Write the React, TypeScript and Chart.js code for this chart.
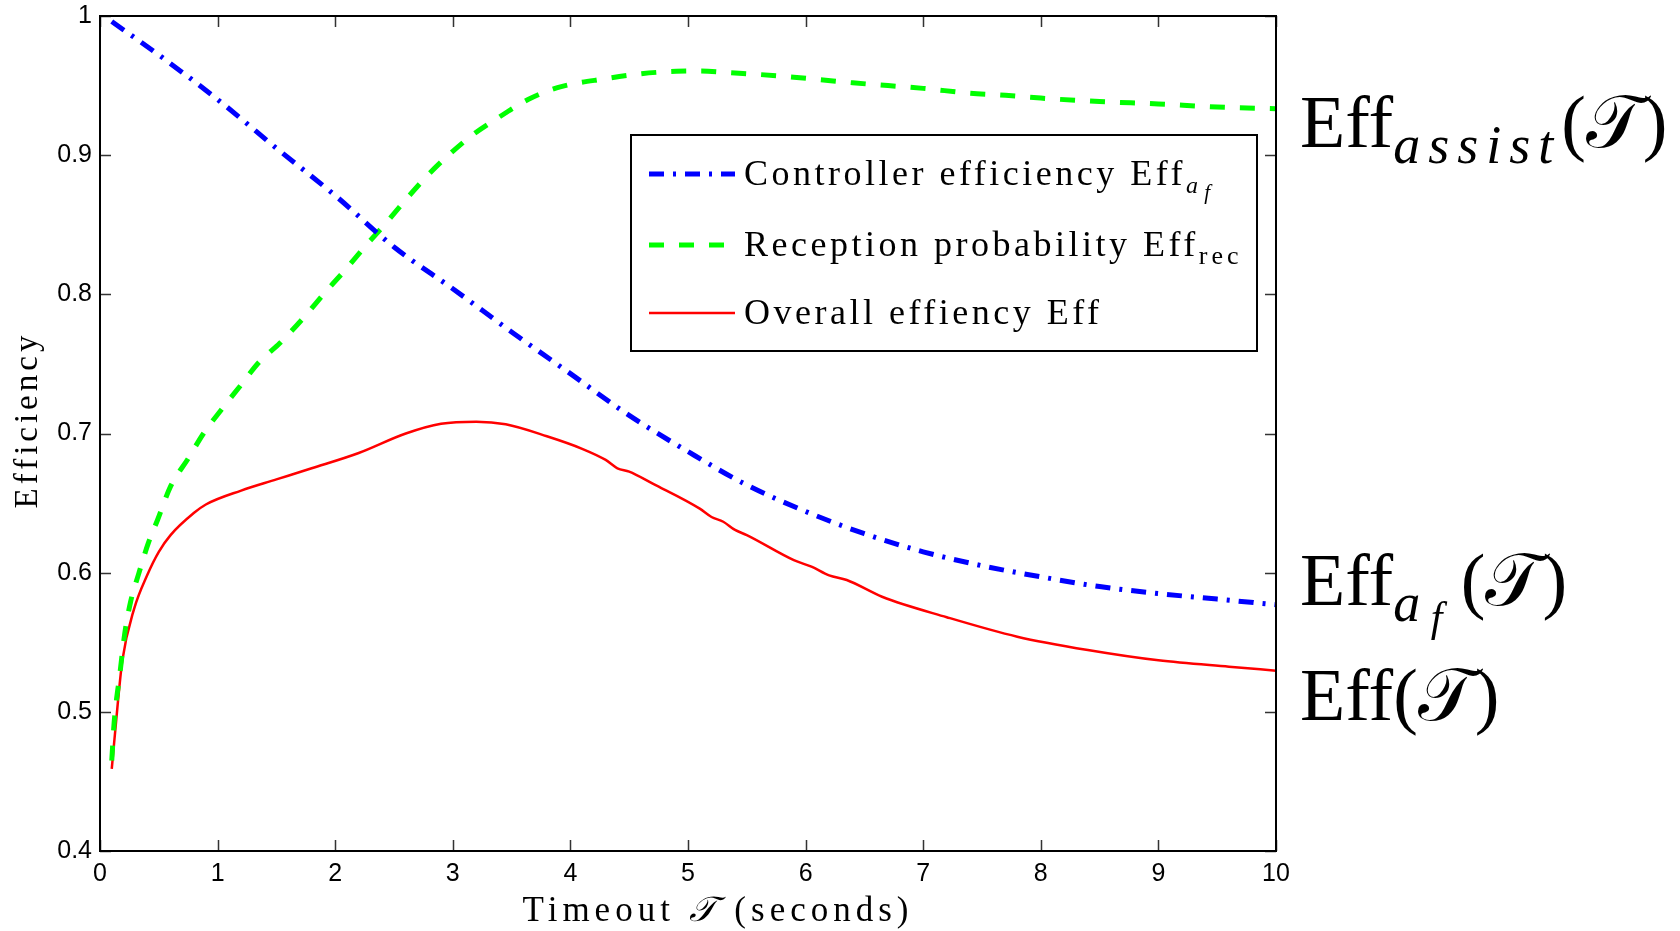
import React, { useEffect, useRef } from 'react';
import { Chart, registerables } from 'chart.js';

Chart.register(...registerables);

// ---- data ----
const ctrlT = [0.1, 0.5, 1.0, 1.5, 2.0, 2.5, 3.0, 3.5, 4.0, 4.5, 5.0, 5.5, 6.0, 6.5, 7.0, 7.5, 8.0, 8.5, 9.0, 9.5, 10];
const ctrlEff = [0.996, 0.972, 0.940, 0.905, 0.871, 0.834, 0.804, 0.773, 0.743, 0.713, 0.687, 0.663, 0.644, 0.628, 0.615, 0.605, 0.597, 0.590, 0.585, 0.581, 0.577];

const recT = [0.1, 0.12, 0.17, 0.21, 0.26, 0.33, 0.41, 0.49, 0.6, 0.75, 0.88, 1.04, 1.2, 1.35, 1.53, 1.74, 1.91, 2.08, 2.26, 2.43, 2.6, 2.78, 2.95, 3.16, 3.37, 3.64, 3.89, 4.3, 4.6, 4.9, 5.1, 5.4, 5.6, 5.9, 6.15, 6.4, 6.7, 7.0, 7.4, 7.7, 8.0, 8.5, 9.0, 9.5, 10];
const recEff = [0.465, 0.492, 0.528, 0.556, 0.579, 0.5995, 0.621, 0.638, 0.662, 0.682, 0.700, 0.718, 0.735, 0.751, 0.765, 0.784, 0.801, 0.817, 0.835, 0.851, 0.868, 0.885, 0.899, 0.914, 0.926, 0.940, 0.9485, 0.955, 0.9585, 0.9603, 0.9605, 0.959, 0.958, 0.956, 0.954, 0.952, 0.950, 0.948, 0.9445, 0.943, 0.941, 0.9385, 0.9368, 0.9346, 0.9334];

const overallT = [0.1, 0.15, 0.19, 0.29, 0.4, 0.5, 0.6, 0.8, 0.9, 1.2, 1.5, 1.8, 2.2, 2.6, 2.9, 3.2, 3.45, 3.8, 4.1, 4.3, 4.4, 4.5, 4.7, 5.1, 5.2, 5.3, 5.4, 5.5, 5.9, 6.05, 6.2, 6.35, 6.65, 7.2, 7.8, 8.4, 9.0, 9.6, 10];
const overallEff = [0.459, 0.505, 0.537, 0.574, 0.598, 0.615, 0.627, 0.643, 0.649, 0.659, 0.667, 0.675, 0.686, 0.700, 0.707, 0.7085, 0.7066, 0.698, 0.689, 0.681, 0.675, 0.6726, 0.664, 0.646, 0.640, 0.6366, 0.6307, 0.627, 0.609, 0.6043, 0.598, 0.5947, 0.5827, 0.568, 0.554, 0.5444, 0.537, 0.5324, 0.5296];

const xTickValues = [0, 1, 2, 3, 4, 5, 6, 7, 8, 9, 10];
const xTickLabels = ['0', '1', '2', '3', '4', '5', '6', '7', '8', '9', '10'];
const yTickValues = [0.4, 0.5, 0.6, 0.7, 0.8, 0.9, 1.0];
const yTickLabels = ['0.4', '0.5', '0.6', '0.7', '0.8', '0.9', '1'];

const yTitle = 'Efficiency';

const BLUE = '#0000ff';
const GREEN = '#00ff00';
const RED = '#ff0000';
const BLUE_DASH = [15, 9, 3, 9];
const GREEN_DASH = [15, 15];

const SERIF = '"Liberation Serif", "DejaVu Serif", serif';
const SANS = '"Liberation Sans", Arial, sans-serif';

type Run = { t: string; f: string; dy?: number; ls?: number };

function drawRuns(ctx: CanvasRenderingContext2D, runs: Run[], x: number, y: number) {
  let cx = x;
  for (const r of runs) {
    ctx.font = r.f;
    (ctx as any).letterSpacing = (r.ls ?? 0) + 'px';
    ctx.fillText(r.t, cx, y + (r.dy ?? 0));
    cx += ctx.measureText(r.t).width;
  }
  (ctx as any).letterSpacing = '0px';
  return cx;
}

function runsWidth(ctx: CanvasRenderingContext2D, runs: Run[]) {
  let w = 0;
  for (const r of runs) {
    ctx.font = r.f;
    (ctx as any).letterSpacing = (r.ls ?? 0) + 'px';
    w += ctx.measureText(r.t).width;
  }
  (ctx as any).letterSpacing = '0px';
  return w;
}

const decorPlugin = {
  id: 'decor',
  afterDraw(chart: any) {
    const ctx: CanvasRenderingContext2D = chart.ctx;
    const { left, right, top, bottom } = chart.chartArea;
    const xs = chart.scales.x;
    const ys = chart.scales.y;
    ctx.save();

    // inward ticks on all four sides
    ctx.strokeStyle = '#333';
    ctx.lineWidth = 1.5;
    const TL = 11;
    ctx.beginPath();
    for (const v of xTickValues) {
      const px = Math.round(xs.getPixelForValue(v)) + 0.5;
      ctx.moveTo(px, bottom); ctx.lineTo(px, bottom - TL);
      ctx.moveTo(px, top); ctx.lineTo(px, top + TL);
    }
    for (const v of yTickValues) {
      const py = Math.round(ys.getPixelForValue(v)) + 0.5;
      ctx.moveTo(left, py); ctx.lineTo(left + TL, py);
      ctx.moveTo(right, py); ctx.lineTo(right - TL, py);
    }
    ctx.stroke();

    // frame
    ctx.strokeStyle = '#000';
    ctx.lineWidth = 2;
    ctx.strokeRect(left, top, right - left, bottom - top);

    // legend box
    const bx = 631, by = 135, bw = 626, bh = 216;
    ctx.fillStyle = '#fff';
    ctx.fillRect(bx, by, bw, bh);
    ctx.strokeStyle = '#000';
    ctx.lineWidth = 2;
    ctx.strokeRect(bx, by, bw, bh);

    const items = [
      { y: 174, color: BLUE, width: 5, dash: BLUE_DASH,
        runs: [
          { t: 'Controller efficiency Eff', f: `36px ${SERIF}`, ls: 3.5 },
          { t: 'a', f: `italic 24px ${SERIF}`, dy: 8, ls: 1 },
          { t: ' f', f: `italic 21px ${SERIF}`, dy: 14 },
        ] as Run[] },
      { y: 245, color: GREEN, width: 5, dash: GREEN_DASH,
        runs: [
          { t: 'Reception probability Eff', f: `36px ${SERIF}`, ls: 3.5 },
          { t: 'rec', f: `26px ${SERIF}`, dy: 8, ls: 4 },
        ] as Run[] },
      { y: 313, color: RED, width: 2.5, dash: [] as number[],
        runs: [
          { t: 'Overall effiency Eff', f: `36px ${SERIF}`, ls: 3.5 },
        ] as Run[] },
    ];
    for (const it of items) {
      ctx.strokeStyle = it.color;
      ctx.lineWidth = it.width;
      ctx.setLineDash(it.dash);
      ctx.beginPath();
      ctx.moveTo(649, it.y);
      ctx.lineTo(735, it.y);
      ctx.stroke();
      ctx.setLineDash([]);
      ctx.fillStyle = '#000';
      ctx.textBaseline = 'alphabetic';
      ctx.textAlign = 'left';
      drawRuns(ctx, it.runs, 744, it.y + 11);
    }

    // axis titles
    ctx.fillStyle = '#000';
    ctx.textBaseline = 'alphabetic';
    ctx.textAlign = 'left';
    const xtRuns: Run[] = [
      { t: 'Timeout ', f: `35px ${SERIF}`, ls: 5 },
      { t: '\u{1D4AF}', f: `italic 35px ${SERIF}`, ls: 5 },
      { t: ' (seconds)', f: `35px ${SERIF}`, ls: 5 },
    ];
    const xtw = runsWidth(ctx, xtRuns);
    drawRuns(ctx, xtRuns, 718 - xtw / 2, 921);

    ctx.save();
    ctx.translate(37, 420);
    ctx.rotate(-Math.PI / 2);
    const ytRuns: Run[] = [{ t: yTitle, f: `33px ${SERIF}`, ls: 4 }];
    const ytw = runsWidth(ctx, ytRuns);
    drawRuns(ctx, ytRuns, -ytw / 2, 0);
    ctx.restore();

    // right-hand curve annotations
    const big = `74px ${SERIF}`;
    const subI = `italic 54px ${SERIF}`;
    drawRuns(ctx, [
      { t: 'Eff', f: big },
      { t: 'assist', f: subI, dy: 16, ls: 8 },
      { t: '(\u{1D4AF})', f: big },
    ], 1300, 147);
    drawRuns(ctx, [
      { t: 'Eff', f: big },
      { t: 'a', f: subI, dy: 16 },
      { t: ' f', f: `italic 42px ${SERIF}`, dy: 26 },
      { t: ' (\u{1D4AF})', f: big },
    ], 1300, 605);
    drawRuns(ctx, [
      { t: 'Eff(\u{1D4AF})', f: big },
    ], 1300, 720);

    ctx.restore();
  },
};

export default function App() {
  const ref = useRef<HTMLCanvasElement>(null);

  useEffect(() => {
    document.body.style.margin = '0';
    const canvas = ref.current!;
    const mk = (xs: number[], ys: number[]) => xs.map((x, i) => ({ x, y: ys[i] }));
    const chart = new Chart(canvas, {
      type: 'line',
      data: {
        datasets: [
          {
            label: 'Controller efficiency',
            data: mk(ctrlT, ctrlEff),
            borderColor: BLUE,
            borderWidth: 5,
            borderDash: BLUE_DASH,
            pointRadius: 0,
            fill: false,
            cubicInterpolationMode: 'monotone',
          },
          {
            label: 'Reception probability',
            data: mk(recT, recEff),
            borderColor: GREEN,
            borderWidth: 5,
            borderDash: GREEN_DASH,
            pointRadius: 0,
            fill: false,
            cubicInterpolationMode: 'monotone',
          },
          {
            label: 'Overall effiency',
            data: mk(overallT, overallEff),
            borderColor: RED,
            borderWidth: 2.5,
            pointRadius: 0,
            fill: false,
            cubicInterpolationMode: 'monotone',
          },
        ],
      },
      options: {
        responsive: false,
        animation: false,
        devicePixelRatio: 1,
        layout: { padding: { left: 0, top: 16, right: 404, bottom: 0 } },
        plugins: { legend: { display: false }, tooltip: { enabled: false } },
        scales: {
          x: {
            type: 'linear',
            min: 0,
            max: 10,
            afterBuildTicks: (s: any) => { s.ticks = xTickValues.map((v) => ({ value: v })); },
            afterFit: (s: any) => { s.height = 80; s.paddingLeft = 0; s.paddingRight = 0; },
            ticks: {
              color: '#000',
              font: { family: SANS, size: 25 },
              padding: 8,
              maxRotation: 0,
              autoSkip: false,
              callback: (_v: any, i: number) => xTickLabels[i],
            },
            grid: { display: false, drawTicks: false },
            border: { display: false },
          },
          y: {
            type: 'linear',
            min: 0.4,
            max: 1,
            afterBuildTicks: (s: any) => { s.ticks = yTickValues.map((v) => ({ value: v })); },
            afterFit: (s: any) => { s.width = 100; s.paddingTop = 0; s.paddingBottom = 0; },
            ticks: {
              color: '#000',
              font: { family: SANS, size: 25 },
              padding: 8,
              autoSkip: false,
              callback: (_v: any, i: number) => yTickLabels[i],
            },
            grid: { display: false, drawTicks: false },
            border: { display: false },
          },
        },
      },
      plugins: [decorPlugin],
    });
    return () => chart.destroy();
  }, []);

  return (
    <div style={{ position: 'fixed', left: 0, top: 0, width: 1680, height: 931, background: '#fff' }}>
      <canvas ref={ref} width={1680} height={931} style={{ width: 1680, height: 931, display: 'block' }} />
    </div>
  );
}
